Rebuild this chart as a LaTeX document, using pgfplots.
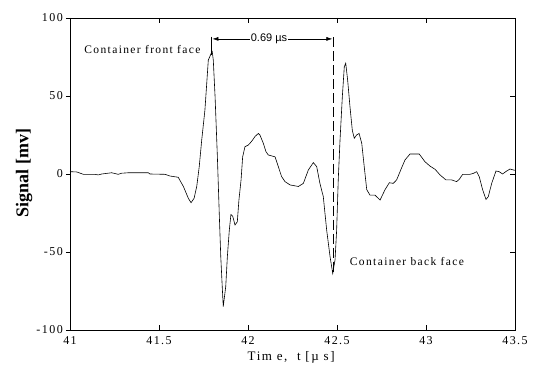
\documentclass[border=0pt]{standalone}
\usepackage{fontspec}
\setmainfont{Liberation Serif}
\newfontfamily\lsfont[LetterSpace=12]{Liberation Serif}
\newfontfamily\sansf{Liberation Sans}
\usepackage{pgfplots}
\pgfplotsset{compat=1.18}
\usetikzlibrary{arrows.meta}
\pgfplotstableread{
x y
41.000 1.5
41.038 1.3
41.075 -0.2
41.140 -0.2
41.159 -0.6
41.178 0
41.234 0.8
41.271 -0.2
41.290 0.5
41.328 0.8
41.440 0.8
41.449 0
41.534 -0.2
41.562 -1.3
41.608 -2.1
41.637 -8
41.665 -15.6
41.680 -18.4
41.697 -15.6
41.712 -8
41.726 4.7
41.740 21.8
41.758 41
41.777 73
41.792 77
41.799 78.5
41.805 73
41.815 49.6
41.828 11
41.839 -27
41.847 -53
41.856 -74
41.861 -85
41.875 -72
41.884 -53
41.895 -36
41.904 -26
41.914 -27
41.927 -32.7
41.940 -30.6
41.949 -16.7
41.961 -3.8
41.970 11
41.983 17.5
42.002 18.6
42.011 19.7
42.026 21.8
42.039 24
42.058 26
42.067 25
42.086 19.7
42.101 14.3
42.114 12.2
42.152 11
42.189 -1.7
42.208 -4.9
42.236 -7
42.283 -8
42.311 -6
42.339 2.6
42.367 7.3
42.386 4.7
42.404 -6
42.423 -14.5
42.442 -36
42.461 -53
42.476 -63.7
42.489 -55
42.498 -36
42.507 -3.8
42.517 21.8
42.530 49.6
42.541 68.8
42.549 71
42.560 60
42.573 43
42.586 28
42.597 22.9
42.610 25
42.624 26
42.639 19.7
42.653 4.7
42.667 -10
42.685 -13.5
42.713 -13.5
42.742 -16.7
42.770 -10
42.794 -5.6
42.816 -6
42.835 -3.8
42.858 2.6
42.882 9
42.910 12.8
42.962 12.8
42.994 7.9
43.022 5.1
43.051 3
43.079 -0.6
43.112 -3.8
43.144 -3.8
43.172 -4.9
43.187 -3.4
43.206 -0.2
43.247 -0.2
43.266 0.4
43.285 1.5
43.299 -1.7
43.318 -10
43.337 -16.3
43.350 -14.5
43.369 -6
43.393 1.9
43.411 1.5
43.430 0
43.453 1.9
43.472 3.2
43.490 2.6
43.500 2.4
}\signal
\begin{document}
\begin{tikzpicture}
\useasboundingbox (-70bp,-45bp) rectangle (465bp,330bp);
\begin{axis}[
  at={(0,0)}, anchor=south west,
  width=445bp, height=312bp, scale only axis,
  xmin=41, xmax=43.5, ymin=-100, ymax=100,
  xtick={41,41.5,42,42.5,43,43.5},
  xticklabels={41,41.5,42,42.5,43,43.5},
  ytick={-100,-50,0,50,100},
  yticklabels={},
  ytick pos=right,
  tick align=inside,
  major tick length=5bp,
  axis line style={line width=0.8bp},
  tick style={line width=0.7bp, black},
  xticklabel style={font=\fontsize{12bp}{14bp}\lsfont, anchor=center, yshift=-11bp},
  xlabel={Tim e,\ \ t [µ s]},
  xlabel style={font=\fontsize{13bp}{15bp}\lsfont, at={(axis description cs:0.497,-0.088)}, anchor=center},
  clip=false,
]
\addplot[black, line width=0.6bp] table[x=x,y=y] {\signal};
% annotations
\draw[line width=0.5bp] (axis cs:41.796,88) -- (axis cs:41.796,76);
\draw[line width=0.7bp, dash pattern=on 10bp off 4bp] (axis cs:42.479,87.5) -- (axis cs:42.479,-63);
\node[font=\fontsize{11bp}{13bp}\sansf, inner sep=1bp] (t) at (axis cs:42.118,86.6) {0.69 µs};
\draw[line width=0.6bp, -{Latex[length=6bp,width=4bp]}] (t.west) -- (axis cs:41.800,86.6);
\draw[line width=0.6bp, -{Latex[length=6bp,width=4bp]}] (t.east) -- (axis cs:42.474,86.6);
\node[font=\fontsize{11.5bp}{13bp}\lsfont] at (axis cs:41.407,79.5) {Container front face};
\node[font=\fontsize{11.5bp}{13bp}\lsfont] at (axis cs:42.893,-56.4) {Container back face};
\end{axis}
\begin{axis}[
  at={(0,0)}, anchor=south west,
  width=445bp, height=312bp, scale only axis,
  xmin=41, xmax=43.5, ymin=-100, ymax=100,
  axis x line=none,
  axis y line*=left,
  axis line style={line width=0.8bp, -},
  ytick={-100,-50,0,50,100},
  yticklabels={-100,-50,0,50,100},
  tick align=outside,
  major tick length=4bp,
  tick style={line width=0.7bp, black},
  yticklabel style={font=\fontsize{12bp}{14bp}\lsfont, anchor=east, inner sep=0pt, xshift=-3bp},
  ylabel={Signal [mv]},
  ylabel style={font=\fontsize{18bp}{20bp}\bfseries, at={(axis description cs:-0.103,0.503)}, anchor=center},
]
\end{axis}
\end{tikzpicture}
\end{document}
